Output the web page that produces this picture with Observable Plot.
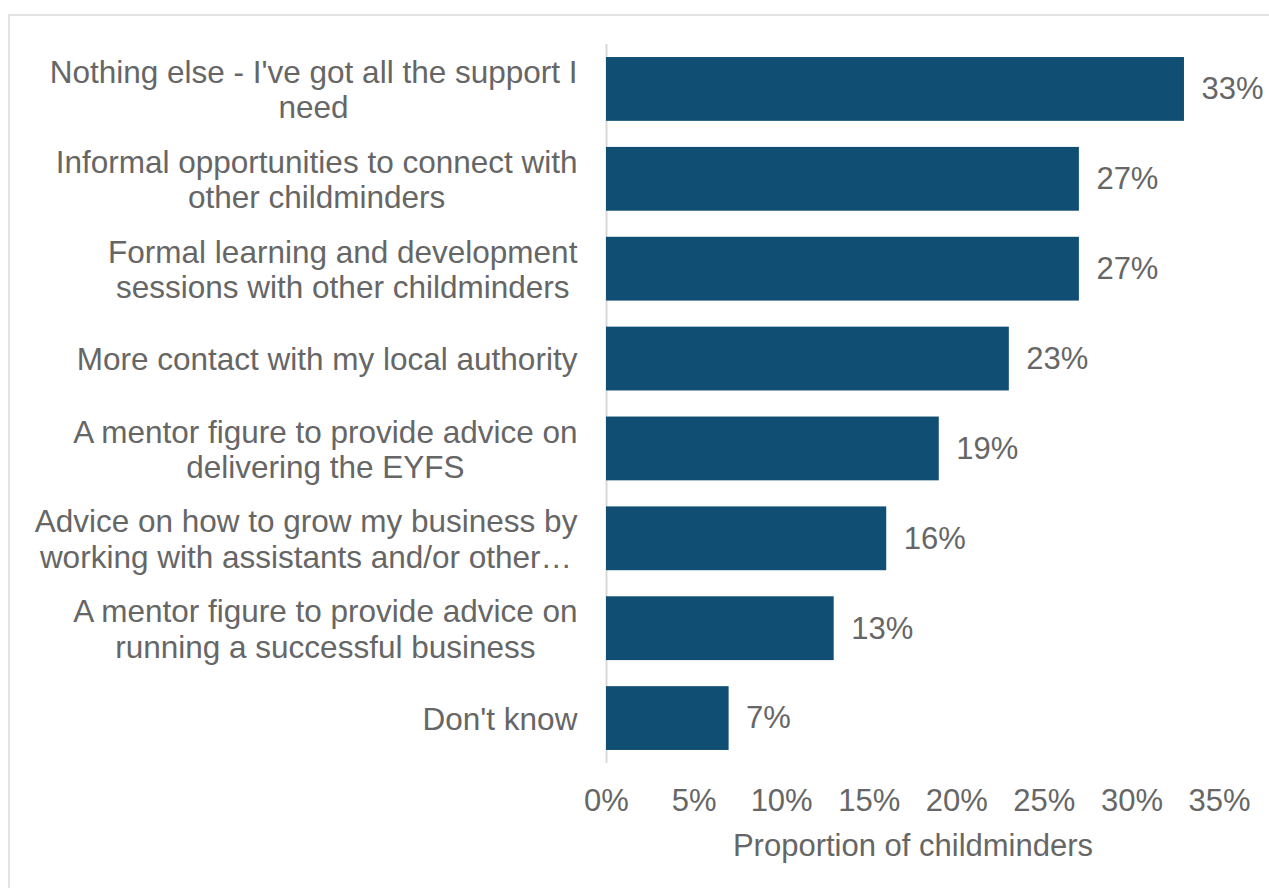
<!DOCTYPE html>
<html><head><meta charset="utf-8">
<script src="https://cdn.jsdelivr.net/npm/d3@7"></script>
<script src="https://cdn.jsdelivr.net/npm/@observablehq/plot@0.6"></script>
<style>
html,body{margin:0;padding:0;background:#fff;width:1269px;height:888px;overflow:hidden}
#frame{position:absolute;left:8px;top:14px;width:1300px;height:1000px;border:2px solid #e3e3e3;box-sizing:border-box}
#chart{position:absolute;left:0;top:0}
</style></head>
<body><div id="frame"></div><div id="chart"></div>
<script>
const categories = [
  "Nothing else - I've got all the support I\nneed",
  "Informal opportunities to connect with\nother childminders",
  "Formal learning and development\nsessions with other childminders",
  "More contact with my local authority",
  "A mentor figure to provide advice on\ndelivering the EYFS",
  "Advice on how to grow my business by\nworking with assistants and/or other…",
  "A mentor figure to provide advice on\nrunning a successful business",
  "Don't know"
];
const values = [33, 27, 27, 23, 19, 16, 13, 7];
const xTicks = [0, 5, 10, 15, 20, 25, 30, 35];
const xLabel = "Proportion of childminders";

const data = categories.map((c, i) => ({category: c, value: values[i]}));
const grey = "#666666";
const fs = 31;

const chart = Plot.plot({
  width: 1269,
  height: 888,
  marginLeft: 606,
  marginRight: 50,
  marginTop: 44,
  marginBottom: 125,
  style: {fontFamily: "'Liberation Sans', Arial, sans-serif", fontSize: fs + "px", color: grey, background: "transparent"},
  x: {domain: [0, 35]},
  y: {domain: categories, paddingInner: 0.29, paddingOuter: 0.145, round: false},
  marks: [
    Plot.ruleX([0], {stroke: "#d9d9d9", strokeWidth: 2}),
    Plot.barX(data, {x: "value", y: "category", fill: "#114E73"}),
    Plot.text(data, {x: "value", y: "category", text: d => d.value + "%", textAnchor: "start", dx: 17, fill: grey, fontSize: fs}),
    Plot.axisX({ticks: xTicks, tickFormat: d => d + "%", tickSize: 0, tickPadding: 25, fontSize: fs, fill: grey, label: null}),
    Plot.axisY({tickSize: 0, tickPadding: 29, fontSize: 31.5, lineHeight: 1.12, textAnchor: "middle", fill: grey, label: null}),
    Plot.text([xLabel], {frameAnchor: "bottom", dy: 92, text: d => d, fontSize: fs, fill: grey})
  ]
});
document.getElementById("chart").appendChild(chart);
// center each multi-line label within its own block, block right-aligned to the axis gap
chart.querySelectorAll('g[aria-label="y-axis tick label"] text').forEach(t => {
  const w = t.getBBox().width;
  const spans = t.querySelectorAll("tspan");
  if (spans.length) spans.forEach(s => s.setAttribute("x", String(-w / 2)));
  else t.setAttribute("dx", String(-w / 2));
});
</script></body></html>
